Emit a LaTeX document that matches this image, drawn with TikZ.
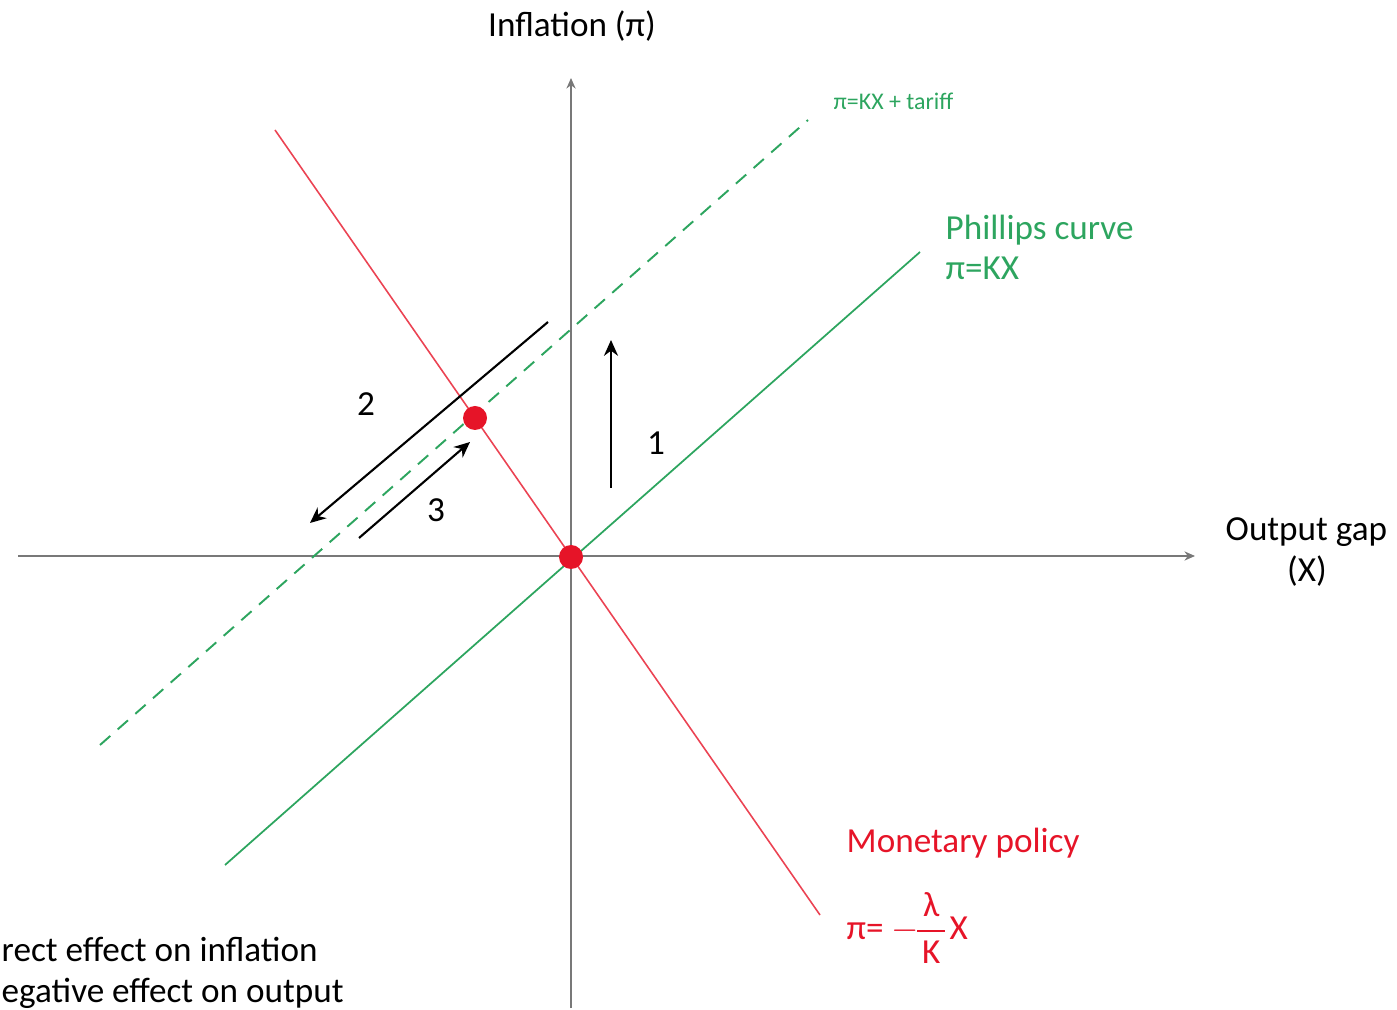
\documentclass[tikz,border=0pt]{standalone}
\usepackage{amsmath}
\usepackage{fontspec}
\setmainfont{Carlito}
\usetikzlibrary{arrows.meta}
\definecolor{cvert}{RGB}{45,165,95}
\definecolor{crouge}{RGB}{230,20,40}
\definecolor{caxe}{RGB}{120,120,120}

\begin{document}
\begin{tikzpicture}[x=0.01cm, y=-0.01cm, >=Stealth,
  lab/.style={inner sep=0pt, font=\fontsize{10}{12}\selectfont},
  tir/.style={dash pattern=on 3.9pt off 2.8pt}]
\useasboundingbox (0,0) rectangle (1397,1010);
% axes
\coordinate (O) at (571,557);
\coordinate (Xg) at (18,556); \coordinate (Xd) at (1195,556);
\coordinate (Yb) at (571,1008); \coordinate (Yh) at (571,78);
\draw[caxe, line width=0.5pt, -{Stealth[length=3pt,width=2.6pt]}] (Xg) -- (Xd);
\draw[caxe, line width=0.5pt, -{Stealth[length=3pt,width=2.6pt]}] (Yb) -- (Yh);
% courbes
\coordinate (R1) at (275,130); \coordinate (R2) at (820,915);
\coordinate (P1) at (225,865); \coordinate (P2) at (920,252);
\coordinate (T1) at (100,745); \coordinate (T2) at (808,120);
\draw[crouge!80, line width=0.45pt] (R1) -- (R2);
\draw[cvert, line width=0.5pt] (P1) -- (P2);
\draw[cvert, line width=0.55pt, tir] (T1) -- (T2);
% fleches
\coordinate (A) at (548,322); \coordinate (B) at (310,523);
\coordinate (C) at (359,538); \coordinate (D) at (470,442);
\coordinate (E) at (611,488); \coordinate (F) at (611,340);
\draw[line width=0.6pt, -{Stealth[length=4.5pt,width=4pt]}] (A) -- (B);
\draw[line width=0.6pt, -{Stealth[length=4.5pt,width=4pt]}] (C) -- (D);
\draw[line width=0.6pt, -{Stealth[length=4.5pt,width=4pt]}] (E) -- (F);
\node[lab] (n2) at (366,404) {2};
\node[lab] (n3) at (436,510) {3};
\node[lab] (n1) at (656,443) {1};
% points d'equilibre
\coordinate (Q) at (475,418);
\foreach \p in {O,Q} {\fill[crouge] (\p) circle (12);}
% textes
\node[lab, anchor=base] (infl) at (572,37) {Inflation (π)};
\node[lab, anchor=base west] (outg) at (1225,541) {Output gap};
\node[lab, anchor=base] (outx) at (1307,582) {(X)};
\node[lab, anchor=base west, cvert, font=\fontsize{6.8}{8}\selectfont] (tarif) at (833,110) {π=KX + tariff};
\node[lab, anchor=base west, cvert] (phil) at (945,240) {Phillips curve};
\node[lab, anchor=base west, cvert] (phileq) at (945,280) {π=KX};
\node[lab, anchor=base west, crouge] (mon) at (846,852) {Monetary policy};
\node[lab, anchor=west, crouge] (moneq) at (846,928)
  {π=\ $-\mkern-3mu\genfrac{}{}{0.5pt}{0}{\hbox{\,λ\,}}{\hbox{K}}$X};
\node[lab, anchor=base west] (eff1) at (1,961) {rect effect on inflation};
\node[lab, anchor=base west] (eff2) at (1,1002) {egative effect on output};
\end{tikzpicture}
\end{document}
